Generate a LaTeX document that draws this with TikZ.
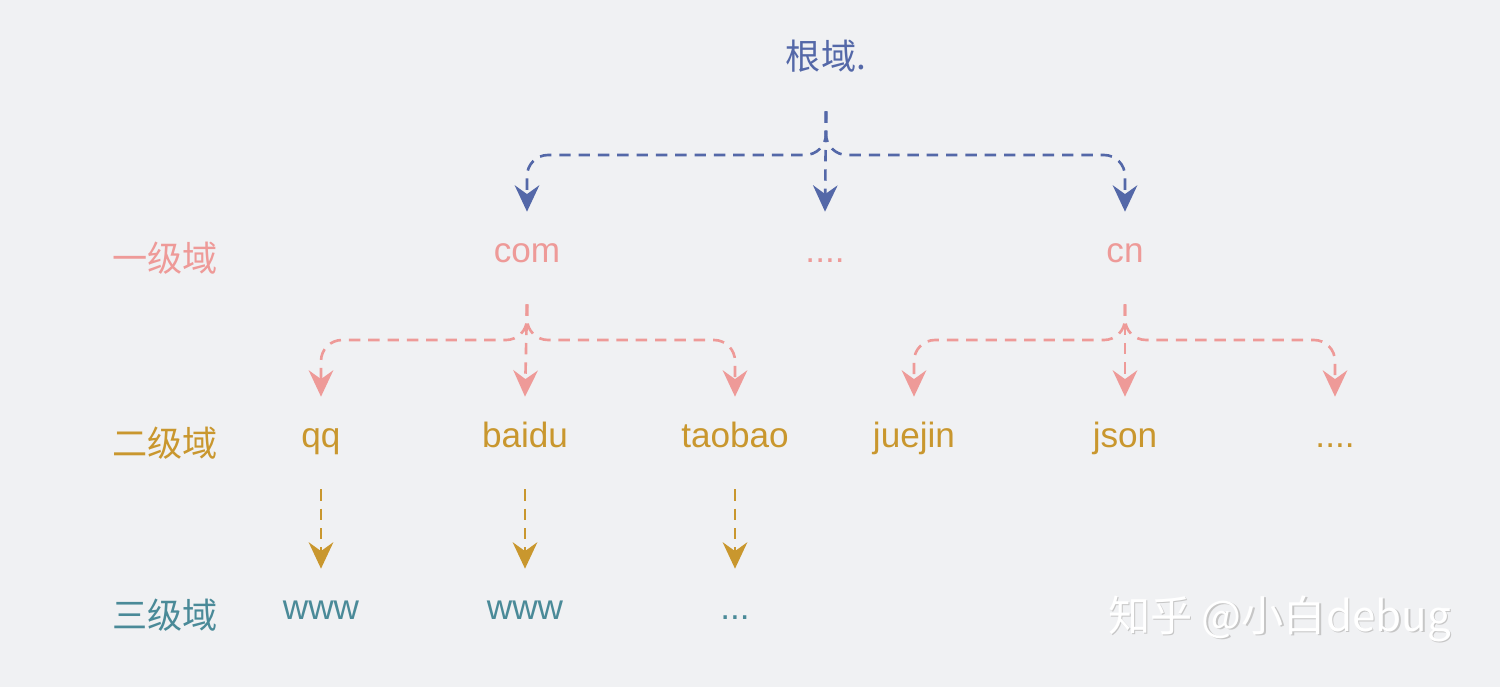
\documentclass[tikz,border=0pt]{standalone}
\usepackage{fontspec}
\setmainfont{Liberation Sans}
\newfontfamily\cjk{Noto Sans CJK SC}
\usetikzlibrary{arrows.meta}
\definecolor{mblue}{HTML}{5468A8}
\definecolor{mpink}{HTML}{EE9A98}
\definecolor{mgold}{HTML}{C9972E}
\definecolor{mteal}{HTML}{4A8A98}
\definecolor{mbg}{HTML}{F0F1F3}
\tikzset{dom/.style = {inner sep = 0, text height = 0.72em, text depth = 0.22em, minimum height = 1.84cm,
                       font = \fontsize{20}{24}\selectfont},
         link/.style = {line width = 1.5pt, dash pattern = on 6.5pt off 4.5pt, rounded corners = 12,
                        -{Stealth[length=15pt, width=14pt, inset=5pt]}},
         lvl/.style = {font = \fontsize{20}{24}\selectfont\cjk}}

\begin{document}
\begin{tikzpicture}[x = 0.02cm, y = -0.02cm]
    \fill [mbg] (0, 0) rectangle (1500, 687);

    \node [dom, mblue, font = \fontsize{20}{24}\selectfont\cjk] (root) at (826, 65) {根域.};

    \node [dom, mpink] (com) at (527, 258) {com};
    \node [dom, mpink] (dots1) at (825, 258) {....};
    \node [dom, mpink] (cn) at (1125, 258) {cn};

    \node [dom, mgold] (qq) at (321, 443) {qq};
    \node [dom, mgold] (baidu) at (525, 443) {baidu};
    \node [dom, mgold] (taobao) at (735, 443) {taobao};
    \node [dom, mgold] (juejin) at (914, 443) {juejin};
    \node [dom, mgold] (json) at (1125, 443) {json};
    \node [dom, mgold] (dots2) at (1335, 443) {....};

    \node [dom, mteal] (wwwa) at (321, 615) {www};
    \node [dom, mteal] (wwwb) at (525, 615) {www};
    \node [dom, mteal] (dots3) at (735, 615) {...};

    \node [lvl, mpink] (l1) at (165, 258) {一级域};
    \node [lvl, mgold] (l2) at (165, 443) {二级域};
    \node [lvl, mteal] (l3) at (165, 615) {三级域};

    % first level
    \foreach \c in {com, cn}
        \draw [link, mblue] (root.south) -- (826, 155) -| (\c.north);
    \draw [link, mblue] (root.south) -- (dots1.north);
    % second level
    \foreach \c in {qq, taobao}
        \draw [link, mpink] (com.south) -- (527, 340) -| (\c.north);
    \draw [link, mpink] (com.south) -- (baidu.north);
    \foreach \c in {juejin, dots2}
        \draw [link, mpink] (cn.south) -- (1125, 340) -| (\c.north);
    \draw [link, mpink] (cn.south) -- (json.north);
    % third level
    \draw [link, mgold] (qq) -- (wwwa);
    \draw [link, mgold] (baidu) -- (wwwb);
    \draw [link, mgold] (taobao) -- (dots3);

    \node [font = \fontsize{24}{28}\selectfont\cjk, gray!45] (wm) at (1281, 620) {知乎 @小白debug};
    \node [font = \fontsize{24}{28}\selectfont\cjk, white] at ([shift = {(-1.5, -1.5)}]wm.center) {知乎 @小白debug};
\end{tikzpicture}
\end{document}
